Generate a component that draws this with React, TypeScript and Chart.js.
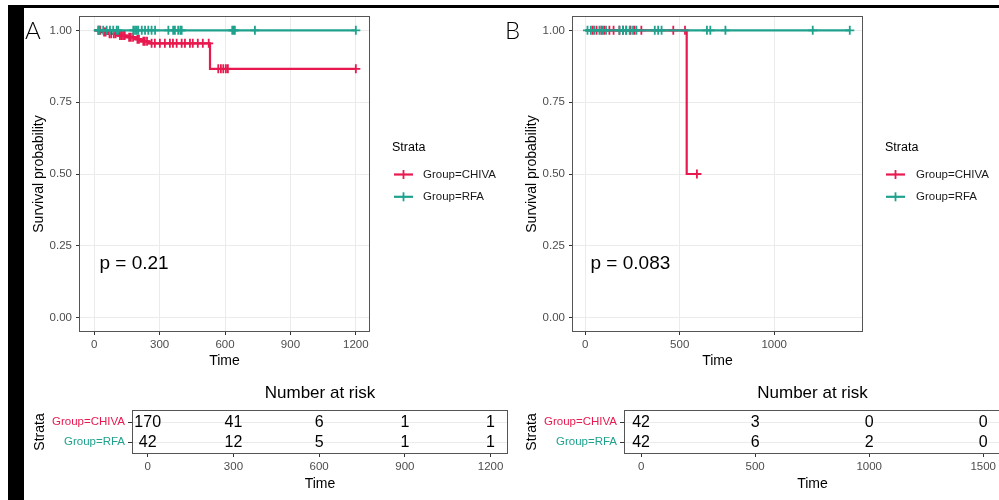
import React, { useEffect, useRef } from "react";
import { Chart, registerables } from "chart.js";

Chart.register(...registerables);

const RED = "#E8194F";
const TEAL = "#1FA28D";
const FONT = "'Liberation Sans', Arial, Helvetica, sans-serif";
const GRID = "#EBEBEB";
const TICK_TXT = "#4D4D4D";
const TICK_MARK = "#333333";
const BORDER = "#555555";

const strataLabels = ["Group=CHIVA", "Group=RFA"];
const strataColors = [RED, TEAL];
const legendTitle = "Strata";
const yTitle = "Survival probability";
const xTitle = "Time";
const riskTitle = "Number at risk";
const riskYTitle = "Strata";

const yTicks = [0, 0.25, 0.5, 0.75, 1];
const yTickLabels = ["0.00", "0.25", "0.50", "0.75", "1.00"];

// ---------- Panel A ----------
const letterA = "A";
const pValueA = "p = 0.21";
const xTicksA = [0, 300, 600, 900, 1200];
const xTickLabelsA = ["0", "300", "600", "900", "1200"];
const chivaTimeA = [0, 35, 60, 110, 150, 190, 215, 250, 531, 1200];
const chivaSurvA = [1, 0.994, 0.988, 0.982, 0.976, 0.969, 0.962, 0.955, 0.866, 0.866];
const rfaTimeA = [0, 1200];
const rfaSurvA = [1, 1];
const chivaCensorA = [20, 28, 45, 52, 70, 78, 90, 98, 118, 125, 132, 140, 160, 168, 178, 198, 205, 225, 232, 242, 263, 278, 301, 324, 347, 361, 378, 401, 416, 439, 452, 475, 498, 525, 569, 581, 592, 604, 613, 1200];
const rfaCensorA = [18, 24, 41, 57, 72, 87, 103, 110, 179, 187, 195, 202, 218, 233, 248, 263, 279, 340, 362, 370, 385, 395, 401, 633, 640, 645, 737, 1200];
const riskTimesA = [0, 300, 600, 900, 1200];
const riskChivaA = [170, 41, 6, 1, 1];
const riskRfaA = [42, 12, 5, 1, 1];

// ---------- Panel B ----------
const letterB = "B";
const pValueB = "p = 0.083";
const xTicksB = [0, 500, 1000];
const xTickLabelsB = ["0", "500", "1000"];
const chivaTimeB = [0, 537, 591];
const chivaSurvB = [1, 0.5, 0.5];
const rfaTimeB = [0, 1400];
const rfaSurvB = [1, 1];
const chivaCensorB = [40, 60, 85, 100, 128, 150, 181, 200, 217, 240, 261, 297, 466, 528, 591];
const rfaCensorB = [12, 30, 48, 75, 90, 110, 181, 199, 217, 235, 253, 271, 368, 386, 404, 644, 662, 742, 1204, 1400];
const riskTimesB = [0, 500, 1000, 1500];
const riskTickLabelsB = ["0", "500", "1000", "1500"];
const riskChivaB = [42, 3, 0, 0];
const riskRfaB = [42, 6, 2, 0];

function survAt(times: number[], surv: number[], t: number): number {
  let s = surv[0];
  for (let i = 0; i < times.length; i++) if (times[i] <= t) s = surv[i];
  return s;
}

function kmPlugin(cfg: any) {
  return {
    id: "kmDecor",
    afterDraw(chart: any) {
      const { ctx, chartArea: a } = chart;
      const xs = chart.scales.x;
      const ys = chart.scales.y;
      ctx.save();
      ctx.strokeStyle = BORDER;
      ctx.lineWidth = 1;
      ctx.strokeRect(a.left + 0.5, a.top + 0.5, a.right - a.left - 1, a.bottom - a.top - 1);

      ctx.fillStyle = "#000";
      ctx.textAlign = "left";
      ctx.textBaseline = "alphabetic";
      ctx.font = `300 24px Lato, ${FONT}`;
      ctx.fillText(cfg.letter, cfg.letterX, 39);

      ctx.font = `19px ${FONT}`;
      ctx.fillText(cfg.pText, xs.getPixelForValue(cfg.pX), ys.getPixelForValue(0.2) + 9);

      ctx.font = `14px ${FONT}`;
      ctx.textAlign = "center";
      ctx.textBaseline = "middle";
      ctx.fillText(xTitle, (a.left + a.right) / 2, 361);

      ctx.save();
      ctx.translate(cfg.yTitleX, (a.top + a.bottom) / 2);
      ctx.rotate(-Math.PI / 2);
      ctx.fillText(yTitle, 0, 0);
      ctx.restore();

      ctx.textAlign = "left";
      ctx.font = `12.5px ${FONT}`;
      ctx.fillText(legendTitle, cfg.legendX, 148);
      strataLabels.forEach((lab, i) => {
        const y = 174.5 + i * 22.3;
        ctx.strokeStyle = strataColors[i];
        ctx.lineWidth = 2.2;
        ctx.beginPath();
        ctx.moveTo(cfg.symX, y);
        ctx.lineTo(cfg.symX + 19, y);
        ctx.stroke();
        ctx.lineWidth = 1.8;
        ctx.beginPath();
        ctx.moveTo(cfg.symX + 9.5, y - 4.5);
        ctx.lineTo(cfg.symX + 9.5, y + 4.5);
        ctx.stroke();
        ctx.fillStyle = "#1a1a1a";
        ctx.font = `11.5px ${FONT}`;
        ctx.fillText(lab, cfg.textX, y);
      });
      ctx.restore();
    },
  };
}

function buildKM(canvas: HTMLCanvasElement, cfg: any) {
  const datasets: any[] = [];
  [1, 0].forEach((i) => {
    const c = cfg.curves[i];
    datasets.push({
      data: c.censor.map((t: number) => ({ x: t, y: survAt(c.time, c.surv, t) })),
      showLine: false,
      pointStyle: "cross",
      pointRadius: 4.5,
      pointBorderWidth: 1.8,
      borderWidth: 1.8,
      borderColor: strataColors[i],
      backgroundColor: strataColors[i],
    });
    datasets.push({
      data: c.time.map((t: number, k: number) => ({ x: t, y: c.surv[k] })),
      showLine: true,
      stepped: "before",
      borderColor: strataColors[i],
      backgroundColor: strataColors[i],
      borderWidth: 2.2,
      pointRadius: 0,
      fill: false,
    });
  });
  return new Chart(canvas, {
    type: "scatter",
    data: { datasets },
    options: {
      animation: false,
      responsive: false,
      events: [],
      layout: { autoPadding: false, padding: { left: 0, top: 16, right: cfg.padRight, bottom: 0 } },
      plugins: { legend: { display: false }, tooltip: { enabled: false } },
      scales: {
        x: {
          type: "linear",
          min: cfg.xMin,
          max: cfg.xMax,
          afterBuildTicks: (s: any) => {
            s.ticks = cfg.xTicks.map((v: number) => ({ value: v }));
          },
          afterFit: (s: any) => {
            s.height = 43;
          },
          grid: { color: GRID, lineWidth: 1, tickColor: TICK_MARK, tickLength: 3 },
          border: { display: false },
          ticks: {
            color: TICK_TXT,
            font: { family: FONT, size: 11.5 },
            padding: 3,
            maxRotation: 0,
            autoSkip: false,
            callback: (v: any) => cfg.xTickLabels[cfg.xTicks.indexOf(Number(v))],
          },
        },
        y: {
          type: "linear",
          min: -0.05,
          max: 1.05,
          afterBuildTicks: (s: any) => {
            s.ticks = yTicks.map((v) => ({ value: v }));
          },
          afterFit: (s: any) => {
            s.width = cfg.yAxisW;
          },
          grid: { color: GRID, lineWidth: 1, tickColor: TICK_MARK, tickLength: 3 },
          border: { display: false },
          ticks: {
            color: TICK_TXT,
            font: { family: FONT, size: 11.5 },
            padding: 4,
            autoSkip: false,
            callback: (v: any) => yTickLabels[yTicks.indexOf(Number(v))],
          },
        },
      },
    } as any,
    plugins: [kmPlugin(cfg)],
  } as any);
}

function riskPlugin(cfg: any) {
  return {
    id: "riskDecor",
    afterDraw(chart: any) {
      const { ctx, chartArea: a } = chart;
      ctx.save();
      ctx.strokeStyle = BORDER;
      ctx.lineWidth = 1;
      ctx.strokeRect(a.left + 0.5, a.top + 0.5, a.right - a.left - 1, a.bottom - a.top - 1);

      ctx.fillStyle = "#000";
      ctx.textAlign = "center";
      ctx.textBaseline = "middle";
      ctx.font = `16px ${FONT}`;
      chart.data.datasets.forEach((ds: any, r: number) => {
        const meta = chart.getDatasetMeta(r);
        meta.data.forEach((el: any, i: number) => {
          ctx.fillText(String(cfg.values[r][i]), el.x, el.y + 1);
        });
      });

      ctx.font = `17px ${FONT}`;
      ctx.fillText(riskTitle, (a.left + a.right) / 2, 18);

      ctx.font = `14px ${FONT}`;
      ctx.fillText(xTitle, (a.left + a.right) / 2, 109);

      ctx.save();
      ctx.translate(cfg.strataX, (a.top + a.bottom) / 2);
      ctx.rotate(-Math.PI / 2);
      ctx.fillText(riskYTitle, 0, 0);
      ctx.restore();
      ctx.restore();
    },
  };
}

function buildRisk(canvas: HTMLCanvasElement, cfg: any) {
  const datasets = cfg.values.map((vals: number[], r: number) => ({
    data: cfg.times.map((t: number) => ({ x: t, y: r + 1 })),
    pointRadius: 0,
    showLine: false,
    borderColor: strataColors[r],
  }));
  return new Chart(canvas, {
    type: "scatter",
    data: { datasets },
    options: {
      animation: false,
      responsive: false,
      events: [],
      layout: { autoPadding: false, padding: { left: 0, top: 35, right: cfg.padRight, bottom: 0 } },
      plugins: { legend: { display: false }, tooltip: { enabled: false } },
      scales: {
        x: {
          type: "linear",
          min: cfg.xMin,
          max: cfg.xMax,
          afterBuildTicks: (s: any) => {
            s.ticks = cfg.times.map((v: number) => ({ value: v }));
          },
          afterFit: (s: any) => {
            s.height = 46;
          },
          grid: { color: "rgba(0,0,0,0)", tickColor: TICK_MARK, tickLength: 3 },
          border: { display: false },
          ticks: {
            color: TICK_TXT,
            font: { family: FONT, size: 11.5 },
            padding: 3,
            maxRotation: 0,
            autoSkip: false,
            callback: (v: any) => cfg.tickLabels[cfg.times.indexOf(Number(v))],
          },
        },
        y: {
          type: "linear",
          min: 0.4,
          max: 2.6,
          reverse: true,
          afterBuildTicks: (s: any) => {
            s.ticks = [1, 2].map((v) => ({ value: v }));
          },
          afterFit: (s: any) => {
            s.width = cfg.yAxisW;
          },
          grid: { color: GRID, lineWidth: 1, tickColor: TICK_MARK, tickLength: 4 },
          border: { display: false },
          ticks: {
            font: { family: FONT, size: 11.5 },
            padding: 3,
            autoSkip: false,
            color: (c: any) => strataColors[(c.tick ? c.tick.value : 1) - 1] || "#000",
            callback: (v: any) => strataLabels[Number(v) - 1],
          },
        },
      },
    } as any,
    plugins: [riskPlugin(cfg)],
  } as any);
}

export default function App() {
  const kmARef = useRef<HTMLCanvasElement>(null);
  const kmBRef = useRef<HTMLCanvasElement>(null);
  const rkARef = useRef<HTMLCanvasElement>(null);
  const rkBRef = useRef<HTMLCanvasElement>(null);

  useEffect(() => {
    const charts: Chart[] = [];
    charts.push(
      buildKM(kmARef.current!, {
        curves: [
          { time: chivaTimeA, surv: chivaSurvA, censor: chivaCensorA },
          { time: rfaTimeA, surv: rfaSurvA, censor: rfaCensorA },
        ],
        xMin: -70,
        xMax: 1265,
        xTicks: xTicksA,
        xTickLabels: xTickLabelsA,
        yAxisW: 79,
        padRight: 130,
        letter: letterA,
        letterX: 25,
        pText: pValueA,
        pX: 24,
        yTitleX: 39,
        legendX: 392,
        symX: 394,
        textX: 423,
      })
    );
    charts.push(
      buildKM(kmBRef.current!, {
        curves: [
          { time: chivaTimeB, surv: chivaSurvB, censor: chivaCensorB },
          { time: rfaTimeB, surv: rfaSurvB, censor: rfaCensorB },
        ],
        xMin: -70,
        xMax: 1470,
        xTicks: xTicksB,
        xTickLabels: xTickLabelsB,
        yAxisW: 72,
        padRight: 136,
        letter: letterB,
        letterX: 5,
        pText: pValueB,
        pX: 28,
        yTitleX: 32.5,
        legendX: 385,
        symX: 386,
        textX: 416,
      })
    );
    charts.push(
      buildRisk(rkARef.current!, {
        times: riskTimesA,
        tickLabels: xTickLabelsA,
        values: [riskChivaA, riskRfaA],
        xMin: -55,
        xMax: 1261,
        yAxisW: 132,
        padRight: 12,
        strataX: 40,
      })
    );
    charts.push(
      buildRisk(rkBRef.current!, {
        times: riskTimesB,
        tickLabels: riskTickLabelsB,
        values: [riskChivaB, riskRfaB],
        xMin: -75,
        xMax: 1578,
        yAxisW: 124,
        padRight: 19,
        strataX: 32,
      })
    );
    return () => charts.forEach((c) => c.destroy());
  }, []);

  return (
    <div
      style={{
        position: "absolute",
        left: 0,
        top: 0,
        width: 999,
        height: 500,
        overflow: "hidden",
        background: "#ffffff",
      }}
    >
      <canvas ref={kmARef} width={500} height={375} style={{ position: "absolute", left: 0, top: 0 }} />
      <canvas ref={kmBRef} width={499} height={375} style={{ position: "absolute", left: 500, top: 0 }} />
      <canvas ref={rkARef} width={520} height={125} style={{ position: "absolute", left: 0, top: 375 }} />
      <canvas ref={rkBRef} width={520} height={125} style={{ position: "absolute", left: 500, top: 375 }} />
      <div style={{ position: "absolute", left: 8, top: 5, width: 16, height: 495, background: "#000" }} />
      <div style={{ position: "absolute", left: 8, top: 5, width: 991, height: 3, background: "#000" }} />
    </div>
  );
}
